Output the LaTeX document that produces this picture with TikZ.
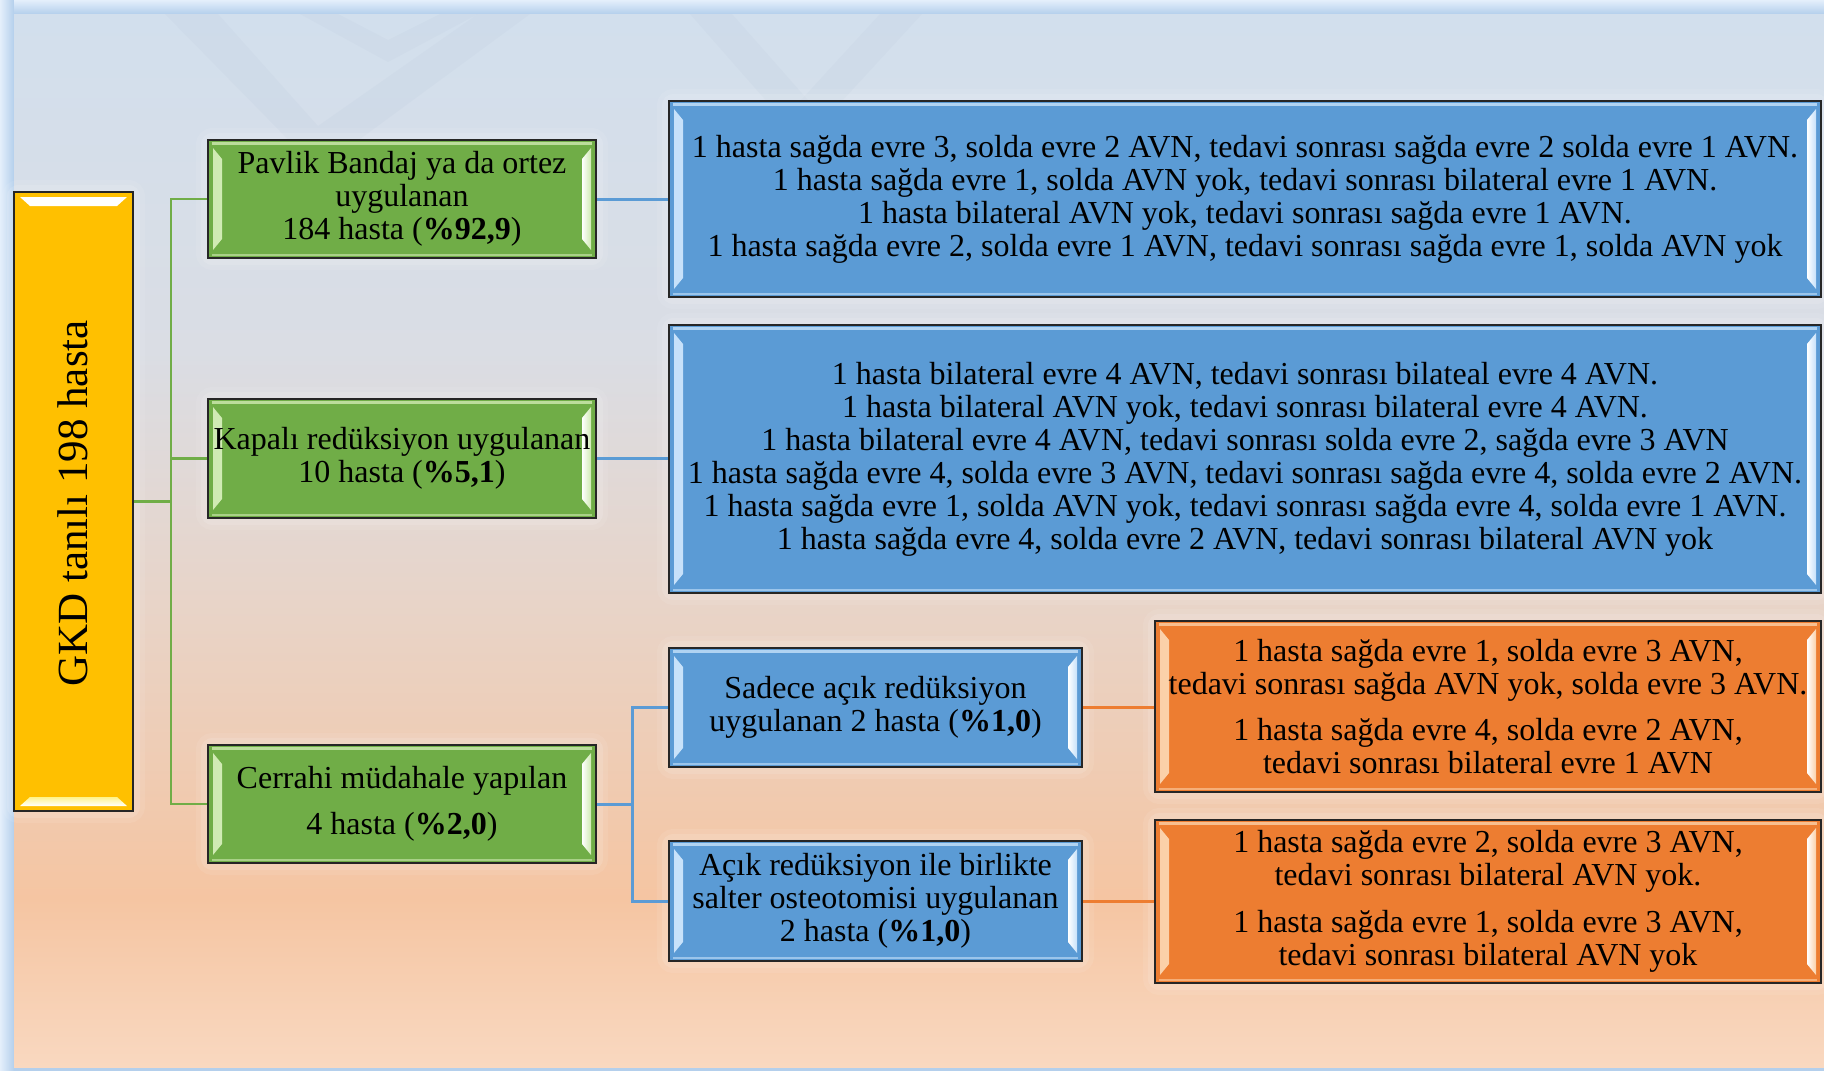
\documentclass[tikz,border=0pt]{standalone}
\usepackage{fontspec}
\setmainfont{Liberation Serif}
\definecolor{yel}{HTML}{FFC000}
\definecolor{yelhl}{HTML}{FFF38A}
\definecolor{grn}{HTML}{70AD47}
\definecolor{grnhl}{HTML}{CFEAB2}
\definecolor{blu}{HTML}{5B9BD5}
\definecolor{bluhl}{HTML}{C6E1FA}
\definecolor{org}{HTML}{ED7D31}
\definecolor{orghl}{HTML}{FBD0A8}
\definecolor{bgA}{HTML}{F9D8C0}
\definecolor{bgB}{HTML}{F5C5A2}
\definecolor{bgC}{HTML}{E8D4C8}
\definecolor{bgD}{HTML}{DADDE4}
\definecolor{bgE}{HTML}{D2DFED}
\definecolor{frm}{HTML}{B4CFEC}
\definecolor{frmL}{HTML}{E4EFFB}
\definecolor{wmc}{HTML}{8FA6C0}
\pgfdeclarelayer{back}
\pgfdeclarelayer{glow}
\pgfsetlayers{back,glow,main}
\pgfdeclareverticalshading{bgshade}{100bp}{color(0bp)=(bgA); color(25bp)=(bgA); color(33bp)=(bgB); color(47bp)=(bgC); color(59bp)=(bgD); color(75bp)=(bgE); color(100bp)=(bgE)}
\begin{document}
\begin{tikzpicture}[x=1pt,y=-1pt,
  box/.style={draw=black!85, line width=2.2pt, inner sep=0pt, align=center, font=\fontsize{32}{33}\selectfont},
  bevlr/.style={path picture={
    \shade[left color=#1, right color=white] ([xshift=5pt,yshift=-8pt]path picture bounding box.north west) -- ([xshift=14pt,yshift=-19pt]path picture bounding box.north west) -- ([xshift=14pt,yshift=19pt]path picture bounding box.south west) -- ([xshift=5pt,yshift=8pt]path picture bounding box.south west) -- cycle;
    \shade[left color=white, right color=#1] ([xshift=-5pt,yshift=-8pt]path picture bounding box.north east) -- ([xshift=-14pt,yshift=-19pt]path picture bounding box.north east) -- ([xshift=-14pt,yshift=19pt]path picture bounding box.south east) -- ([xshift=-5pt,yshift=8pt]path picture bounding box.south east) -- cycle;
    \draw[#1, line width=2.5pt, opacity=0.8] ([xshift=4pt,yshift=-3.5pt]path picture bounding box.north west) -- ([xshift=-4pt,yshift=-3.5pt]path picture bounding box.north east);
    \draw[#1, line width=2pt, opacity=0.6] ([xshift=4pt,yshift=3.5pt]path picture bounding box.south west) -- ([xshift=-4pt,yshift=3.5pt]path picture bounding box.south east);
  }},
  bevtb/.style={path picture={
    \shade[top color=white, bottom color=#1] ([xshift=6pt,yshift=-5pt]path picture bounding box.north west) -- ([xshift=-6pt,yshift=-5pt]path picture bounding box.north east) -- ([xshift=-16pt,yshift=-14pt]path picture bounding box.north east) -- ([xshift=16pt,yshift=-14pt]path picture bounding box.north west) -- cycle;
    \shade[top color=#1, bottom color=white] ([xshift=6pt,yshift=5pt]path picture bounding box.south west) -- ([xshift=-6pt,yshift=5pt]path picture bounding box.south east) -- ([xshift=-16pt,yshift=14pt]path picture bounding box.south east) -- ([xshift=16pt,yshift=14pt]path picture bounding box.south west) -- cycle;
  }},
  ybox/.style={box, fill=yel, bevtb=yelhl},
  gbox/.style={box, fill=grn, bevlr=grnhl},
  bbox/.style={box, fill=blu, bevlr=bluhl},
  obox/.style={box, fill=org, bevlr=orghl},
  gcon/.style={draw=grn, line width=2.6pt},
  bcon/.style={draw=blu, line width=3pt},
  ocon/.style={draw=org, line width=3pt},
  wm/.style={fill=wmc, opacity=0.06},
  halo/.style={draw=white, rounded corners=6pt},
]
\useasboundingbox (0,0) rectangle (1824,1071);

% ---------- background ----------
\begin{pgfonlayer}{back}
  \fill[frm] (0,0) rectangle (1824,1071);
  \shade[left color=frmL, right color=frm] (0,0) rectangle (14,1071);
  \shade[top color=frmL, bottom color=frm] (14,0) rectangle (1824,14);
  \shade[shading=bgshade] (14,14) rectangle (1824,1067);
  % faint watermark chevrons
  \fill[wm] (165,14) -- (318,170) -- (530,14) -- (478,14) -- (318,126) -- (218,14) -- cycle;
  \fill[wm] (300,14) -- (388,62) -- (478,14) -- (440,14) -- (388,40) -- (338,14) -- cycle;
  \fill[wm] (690,14) -- (732,14) -- (905,210) -- (862,210) -- cycle;
  \fill[wm] (880,14) -- (922,14) -- (742,210) -- (700,210) -- cycle;
\end{pgfonlayer}

% ---------- boxes ----------
\node[ybox, minimum width=119pt, minimum height=619pt] (yel) at (73.5,501.5) {};
\node[rotate=90, inner sep=0pt, font=\fontsize{43}{50}\selectfont] (yeltxt) at ([xshift=-1pt,yshift=-2pt]yel.center) {GKD tanılı 198 hasta};

\node[gbox, minimum width=388pt, minimum height=118pt] (g1) at (402,199)
  {Pavlik Bandaj ya da ortez\\uygulanan\\184 hasta (\textbf{\%92,9})};
\node[gbox, minimum width=388pt, minimum height=119pt] (g2) at (402,458.5)
  {Kapalı redüksiyon uygulanan\\10 hasta (\textbf{\%5,1})};
\node[gbox, minimum width=388pt, minimum height=118pt] (g3) at (402,804)
  {Cerrahi müdahale yapılan\\[13.5pt]4 hasta (\textbf{\%2,0})};

\node[bbox, minimum width=1152pt, minimum height=196pt] (b1) at (1245,199)
  {1 hasta sağda evre 3, solda evre 2 AVN, tedavi sonrası sağda evre 2 solda evre 1 AVN.\\
   1 hasta sağda evre 1, solda AVN yok, tedavi sonrası bilateral evre 1 AVN.\\
   1 hasta bilateral AVN yok, tedavi sonrası sağda evre 1 AVN.\\
   1 hasta sağda evre 2, solda evre 1 AVN, tedavi sonrası sağda evre 1, solda AVN yok};
\node[bbox, minimum width=1152pt, minimum height=268pt] (b2) at (1245,459)
  {1 hasta bilateral evre 4 AVN, tedavi sonrası bilateal evre 4 AVN.\\
   1 hasta bilateral AVN yok, tedavi sonrası bilateral evre 4 AVN.\\
   1 hasta bilateral evre 4 AVN, tedavi sonrası solda evre 2, sağda evre 3 AVN\\
   1 hasta sağda evre 4, solda evre 3 AVN, tedavi sonrası sağda evre 4, solda evre 2 AVN.\\
   1 hasta sağda evre 1, solda AVN yok, tedavi sonrası sağda evre 4, solda evre 1 AVN.\\
   1 hasta sağda evre 4, solda evre 2 AVN, tedavi sonrası bilateral AVN yok};

\node[bbox, minimum width=413pt, minimum height=119pt] (s1) at (875.5,707.5)
  {Sadece açık redüksiyon\\uygulanan 2 hasta (\textbf{\%1,0})};
\node[bbox, minimum width=413pt, minimum height=120pt] (s2) at (875.5,901)
  {Açık redüksiyon ile birlikte\\salter osteotomisi uygulanan\\2 hasta (\textbf{\%1,0})};

\node[obox, minimum width=666pt, minimum height=171pt] (o1) at (1488,706.5)
  {1 hasta sağda evre 1, solda evre 3 AVN,\\tedavi sonrası sağda AVN yok, solda evre 3 AVN.\\[13.5pt]
   1 hasta sağda evre 4, solda evre 2 AVN,\\tedavi sonrası bilateral evre 1 AVN};
\node[obox, minimum width=666pt, minimum height=163pt] (o2) at (1488,901.5)
  {1 hasta sağda evre 2, solda evre 3 AVN,\\tedavi sonrası bilateral AVN yok.\\[13.5pt]
   1 hasta sağda evre 1, solda evre 3 AVN,\\tedavi sonrası bilateral AVN yok};

% ---------- halos and connectors ----------
\coordinate (gbus) at (171,0);
\coordinate (bbus) at (632,0);
\begin{pgfonlayer}{glow}
  \foreach \n in {yel,g1,g2,g3,b1,b2,s1,s2,o1,o2}{
    \draw[halo, line width=22pt, opacity=0.08] (\n.north west) rectangle (\n.south east);
    \draw[halo, line width=12pt, opacity=0.12] (\n.north west) rectangle (\n.south east);
  }
  \draw[gcon] (yel.east) -- (yel.east -| gbus);
  \draw[gcon] (g1.west) -- (g1.west -| gbus) -- (g3.west -| gbus) -- (g3.west);
  \draw[gcon] (g2.west) -- (g2.west -| gbus);
  \draw[bcon] (g1.east) -- (g1.east -| b1.west);
  \draw[bcon] (g2.east) -- (g2.east -| b2.west);
  \draw[bcon] (g3.east) -- (g3.east -| bbus);
  \draw[bcon] (s1.west) -- (s1.west -| bbus) -- (s2.west -| bbus) -- (s2.west);
  \draw[ocon] (s1.east) -- (s1.east -| o1.west);
  \draw[ocon] (s2.east) -- (s2.east -| o2.west);
\end{pgfonlayer}
\end{tikzpicture}
\end{document}
